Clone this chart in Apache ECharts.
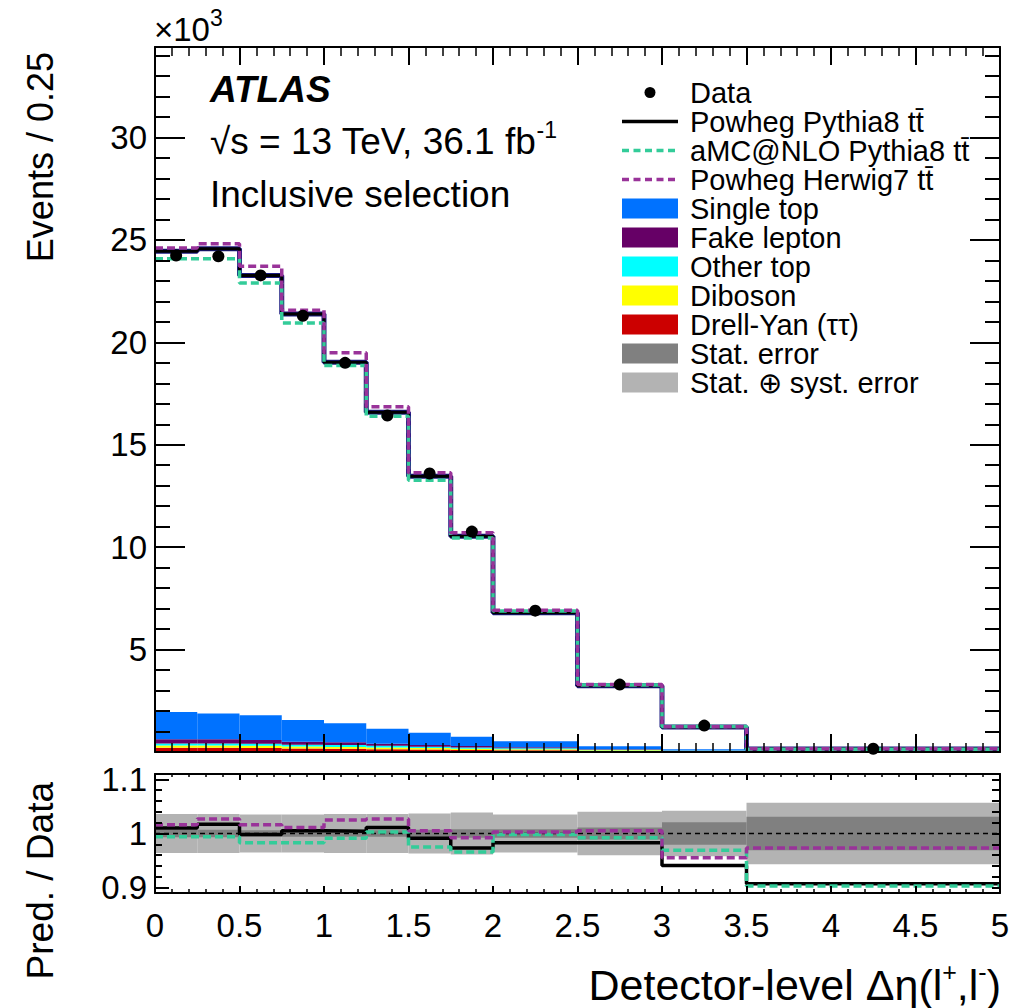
<!DOCTYPE html>
<html><head><meta charset="utf-8">
<script src="https://cdn.jsdelivr.net/npm/echarts@6/dist/echarts.min.js"></script>
<style>html,body{margin:0;padding:0;background:#fff}#c{width:1014px;height:1008px}</style>
</head><body><div id="c"></div>
<script>
// ---- data (values in units of 10^3 events / 0.25) ----
const binEdges = [0, 0.25, 0.5, 0.75, 1, 1.25, 1.5, 1.75, 2, 2.5, 3, 3.5, 5];
const binCenters = [0.125, 0.375, 0.625, 0.875, 1.125, 1.375, 1.625, 1.875, 2.25, 2.75, 3.25, 4.25];
const dataValues = [24.24, 24.20, 23.27, 21.30, 19.00, 16.43, 13.60, 10.76, 6.90, 3.29, 1.29, 0.16];
const powhegPythia8 = [24.45, 24.57, 23.26, 21.39, 19.03, 16.59, 13.46, 10.53, 6.80, 3.24, 1.22, 0.145];
const amcPythia8 = [24.08, 24.08, 22.90, 20.95, 18.87, 16.39, 13.27, 10.45, 6.88, 3.27, 1.25, 0.14];
const powhegHerwig7 = [24.61, 24.82, 23.72, 21.57, 19.49, 16.85, 13.63, 10.70, 6.92, 3.30, 1.23, 0.155];
const singleTop = [1.33, 1.26, 1.22, 1.06, 0.92, 0.74, 0.60, 0.46, 0.29, 0.13, 0.05, 0.015];
const fakeLepton = [0.20, 0.20, 0.18, 0.14, 0.14, 0.10, 0.08, 0.07, 0.05, 0.03, 0.02, 0.005];
const otherTop = [0.10, 0.10, 0.10, 0.09, 0.09, 0.08, 0.07, 0.06, 0.05, 0.035, 0.02, 0.005];
const diboson = [0.11, 0.11, 0.10, 0.10, 0.09, 0.08, 0.07, 0.06, 0.05, 0.035, 0.02, 0.005];
const drellYan = [0.21, 0.21, 0.20, 0.17, 0.16, 0.14, 0.12, 0.10, 0.08, 0.05, 0.03, 0.01];
// ratio panel (prediction / data)
const ratioPowhegPythia8 = [1.010, 1.017, 0.998, 1.005, 1.004, 1.011, 0.991, 0.973, 0.983, 0.983, 0.941, 0.907];
const ratioAmcPythia8 = [0.994, 0.994, 0.983, 0.983, 0.991, 1.003, 0.975, 0.966, 0.998, 0.992, 0.969, 0.903];
const ratioPowhegHerwig7 = [1.016, 1.027, 1.016, 1.011, 1.025, 1.027, 1.005, 0.992, 1.003, 1.005, 0.955, 0.973];
const statErr = [0.007, 0.007, 0.006, 0.006, 0.006, 0.006, 0.007, 0.008, 0.008, 0.011, 0.021, 0.031];
const statSystErr = [0.036, 0.036, 0.035, 0.035, 0.036, 0.036, 0.037, 0.039, 0.035, 0.040, 0.042, 0.057];
// ticks
const xTicks = [0, 0.5, 1, 1.5, 2, 2.5, 3, 3.5, 4, 4.5, 5];
const yMainLabels = [5, 10, 15, 20, 25, 30];
const yRatioLabels = [0.9, 1, 1.1];

const FONT = 'Liberation Sans, Arial, Helvetica, sans-serif';
const C_GREEN = '#33cc99', C_PURPLE = '#993399';

const yMainMajor = [0].concat(yMainLabels);
const yMainMinor = [];
for (let v = 1; v <= 34; v++) if (v % 5 !== 0) yMainMinor.push(v);
const yRatioMinor = [0.92, 0.94, 0.96, 0.98, 1.02, 1.04, 1.06, 1.08];

function stepData(vals) { return binEdges.map((e, i) => [e, vals[Math.min(i, vals.length - 1)]]); }

function rectRender(color) {
  return function (params, api) {
    const p0 = api.coord([api.value(0), api.value(3)]);
    const p1 = api.coord([api.value(1), api.value(2)]);
    return { type: 'rect', shape: { x: p0[0], y: p0[1], width: p1[0] - p0[0], height: p1[1] - p0[1] }, style: { fill: color } };
  };
}

const series = [];
// stacked backgrounds
const bgComponents = [
  { name: 'Drell-Yan (ττ)', vals: drellYan, color: '#cc0000' },
  { name: 'Diboson', vals: diboson, color: '#ffff00' },
  { name: 'Other top', vals: otherTop, color: '#00ffff' },
  { name: 'Fake lepton', vals: fakeLepton, color: '#660066' },
  { name: 'Single top', vals: singleTop, color: '#0072ff' }
];
let cum = binCenters.map(() => 0);
bgComponents.forEach(c => {
  const d = c.vals.map((v, i) => [binEdges[i], binEdges[i + 1], cum[i], cum[i] + v]);
  cum = cum.map((s, i) => s + c.vals[i]);
  series.push({ type: 'custom', name: c.name, xAxisIndex: 0, yAxisIndex: 0, data: d, color: c.color,
    itemStyle: { color: c.color }, encode: { x: [0, 1], y: [2, 3] }, renderItem: rectRender(c.color), z: 1, silent: true });
});

function stepLine(name, vals, color, width, dash, xi, yi, z) {
  return { type: 'line', name: name, step: 'end', data: stepData(vals), xAxisIndex: xi, yAxisIndex: yi,
    symbol: 'none', showSymbol: false, color: color, itemStyle: { color: color },
    lineStyle: { color: color, width: width, type: dash }, z: z, silent: true };
}
const N_PP8 = 'Powheg Pythia8 tt\u0304', N_AMC = 'aMC@NLO Pythia8 tt\u0304', N_PH7 = 'Powheg Herwig7 tt\u0304';
series.push(stepLine('', powhegPythia8, '#1a1a80', 5, 'solid', 0, 0, 2));
series.push(stepLine(N_PP8, powhegPythia8, '#000000', 3, 'solid', 0, 0, 3));
series.push(stepLine(N_AMC, amcPythia8, C_GREEN, 3.5, [8, 4], 0, 0, 4));
series.push(stepLine(N_PH7, powhegHerwig7, C_PURPLE, 3.5, [8, 4], 0, 0, 5));
series.push({ type: 'scatter', name: 'Data', xAxisIndex: 0, yAxisIndex: 0, data: binCenters.map((x, i) => [x, dataValues[i]]),
  symbol: 'circle', symbolSize: 12, color: '#000', itemStyle: { color: '#000', opacity: 1 }, z: 6, silent: true });

// ratio panel
const bandSS = statSystErr.map((e, i) => [binEdges[i], binEdges[i + 1], 1 - e, 1 + e]);
const bandS = statErr.map((e, i) => [binEdges[i], binEdges[i + 1], 1 - e, 1 + e]);
series.push({ type: 'custom', name: 'Stat. \u2295 syst. error', xAxisIndex: 2, yAxisIndex: 4, data: bandSS, color: '#b3b3b3',
  itemStyle: { color: '#b3b3b3' }, encode: { x: [0, 1], y: [2, 3] }, renderItem: rectRender('#b3b3b3'), z: 1, silent: true });
series.push({ type: 'custom', name: 'Stat. error', xAxisIndex: 2, yAxisIndex: 4, data: bandS, color: '#808080',
  itemStyle: { color: '#808080' }, encode: { x: [0, 1], y: [2, 3] }, renderItem: rectRender('#808080'), z: 2, silent: true });
series.push({ type: 'line', name: '', xAxisIndex: 2, yAxisIndex: 4, data: [[0, 1], [5, 1]], symbol: 'none',
  lineStyle: { color: '#000', width: 1.5, type: [5, 4] }, z: 3, silent: true });
series.push(stepLine(N_PP8, ratioPowhegPythia8, '#000000', 3.5, 'solid', 2, 4, 4));
series.push(stepLine(N_AMC, ratioAmcPythia8, C_GREEN, 3.5, [8, 4], 2, 4, 5));
series.push(stepLine(N_PH7, ratioPowhegHerwig7, C_PURPLE, 3.5, [8, 4], 2, 4, 6));

// axes
function xAx(grid, pos, tickLen, minorLen, labels) {
  return { type: 'value', gridIndex: grid, position: pos, min: 0, max: 5, interval: 0.5, z: 10,
    axisLine: { show: true, onZero: false, lineStyle: { color: '#000', width: 2 } },
    axisTick: { show: true, inside: true, length: tickLen, lineStyle: { color: '#000', width: 2 } },
    minorTick: { show: true, splitNumber: 5, length: minorLen, lineStyle: { color: '#000', width: 1.5 } },
    axisLabel: { show: labels, color: '#000', fontSize: 33, fontFamily: FONT, margin: 16 },
    splitLine: { show: false }, minorSplitLine: { show: false } };
}
function yAx(grid, pos, min, max, ticks, tickLen, labels, lineShow) {
  return { type: 'value', gridIndex: grid, position: pos, min: min, max: max, z: 10,
    axisLine: { show: lineShow, onZero: false, lineStyle: { color: '#000', width: 2 } },
    axisTick: { show: true, inside: true, length: tickLen, customValues: ticks, lineStyle: { color: '#000', width: 2 } },
    axisLabel: labels ? { show: true, customValues: labels, color: '#000', fontSize: 33, fontFamily: FONT, margin: 8 } : { show: false, customValues: ticks },
    splitLine: { show: false } };
}

const legendPathDot = 'path://M0,0M56,20M22.5,10a5.5,5.5 0 1,0 11,0a5.5,5.5 0 1,0 -11,0z';
const legendPathLine = 'path://M0,0M56,20M0,8.2h56v3.6h-56z';
const legendPathDash = 'path://M0,0M56,20M0,8.2h7v3.6h-7zM11.5,8.2h7v3.6h-7zM23,8.2h7v3.6h-7zM34.5,8.2h7v3.6h-7zM46,8.2h7v3.6h-7z';

const option = {
  animation: false,
  backgroundColor: '#fff',
  grid: [
    { left: 155, top: 47, width: 845, height: 705 },
    { left: 155, top: 774, width: 845, height: 119 }
  ],
  xAxis: [
    xAx(0, 'bottom', 18, 9, false),
    xAx(0, 'top', 18, 9, false),
    xAx(1, 'bottom', 7, 4, true),
    xAx(1, 'top', 6, 3, false)
  ],
  yAxis: [
    yAx(0, 'left', 0, 34.42, yMainMajor, 30, yMainLabels, true),
    yAx(0, 'left', 0, 34.42, yMainMinor, 15, null, false),
    yAx(0, 'right', 0, 34.42, yMainMajor, 30, null, true),
    yAx(0, 'right', 0, 34.42, yMainMinor, 15, null, false),
    yAx(1, 'left', 0.89, 1.11, yRatioLabels, 14, yRatioLabels, true),
    yAx(1, 'left', 0.89, 1.11, yRatioMinor, 7, null, false),
    yAx(1, 'right', 0.89, 1.11, yRatioLabels.concat(yRatioMinor), 8, null, true)
  ],
  legend: {
    orient: 'vertical', left: 622, top: 78, padding: 0, itemWidth: 56, itemHeight: 20, itemGap: 0,
    selectedMode: false,
    textStyle: { color: '#000', fontSize: 29, fontFamily: FONT, lineHeight: 29, padding: [0, 0, 0, 7] },
    data: [
      { name: 'Data', icon: legendPathDot, itemStyle: { color: '#000', opacity: 1 } },
      { name: N_PP8, icon: legendPathLine, itemStyle: { color: '#000' } },
      { name: N_AMC, icon: legendPathDash, itemStyle: { color: C_GREEN } },
      { name: N_PH7, icon: legendPathDash, itemStyle: { color: C_PURPLE } },
      { name: 'Single top', icon: 'rect', itemStyle: { color: '#0072ff' } },
      { name: 'Fake lepton', icon: 'rect', itemStyle: { color: '#660066' } },
      { name: 'Other top', icon: 'rect', itemStyle: { color: '#00ffff' } },
      { name: 'Diboson', icon: 'rect', itemStyle: { color: '#ffff00' } },
      { name: 'Drell-Yan (ττ)', icon: 'rect', itemStyle: { color: '#cc0000' } },
      { name: 'Stat. error', icon: 'rect', itemStyle: { color: '#808080' } },
      { name: 'Stat. \u2295 syst. error', icon: 'rect', itemStyle: { color: '#b3b3b3' } }
    ]
  },
  graphic: [
    { type: 'text', left: 154, top: 6, style: { text: '{a|×10}{b|3}', fill: '#000',
      rich: { a: { fontSize: 33, fontFamily: FONT, verticalAlign: 'bottom', lineHeight: 40 }, b: { fontSize: 23, fontFamily: FONT, verticalAlign: 'top', lineHeight: 40, padding: [0, 0, 16, 0] } } } },
    { type: 'text', x: 210, y: 89, style: { text: 'ATLAS', font: 'italic bold 37px ' + FONT, fill: '#000', verticalAlign: 'middle' } },
    { type: 'text', x: 210, y: 141, style: { text: '{m|√s = 13 TeV, 36.1 fb}{s|-1}', fill: '#000', verticalAlign: 'middle',
      rich: { m: { fontSize: 37, fontFamily: FONT, lineHeight: 42 }, s: { fontSize: 23, fontFamily: FONT, lineHeight: 42, padding: [0, 0, 22, 0] } } } },
    { type: 'text', x: 210, y: 194, style: { text: 'Inclusive selection', font: '37px ' + FONT, fill: '#000', verticalAlign: 'middle' } },
    { type: 'text', x: 40, y: 52, rotation: Math.PI / 2, style: { text: 'Events / 0.25', font: '36px ' + FONT, fill: '#000', align: 'right', verticalAlign: 'middle' } },
    { type: 'text', x: 40, y: 782, rotation: Math.PI / 2, style: { text: 'Pred. / Data', font: '37px ' + FONT, fill: '#000', align: 'right', verticalAlign: 'middle' } },
    { type: 'text', x: 1001, y: 985, style: { text: '{m|Detector-level Δη(l}{s|+}{m|,l}{s|-}{m|)}', fill: '#000', align: 'right', verticalAlign: 'middle',
      rich: { m: { fontSize: 43, fontFamily: FONT, lineHeight: 48 }, s: { fontSize: 25, fontFamily: FONT, lineHeight: 48, padding: [0, 0, 27, 0] } } } }
  ],
  series: series
};
const chart = echarts.init(document.getElementById('c'), null, { renderer: 'svg' });
chart.setOption(option);
</script></body></html>
